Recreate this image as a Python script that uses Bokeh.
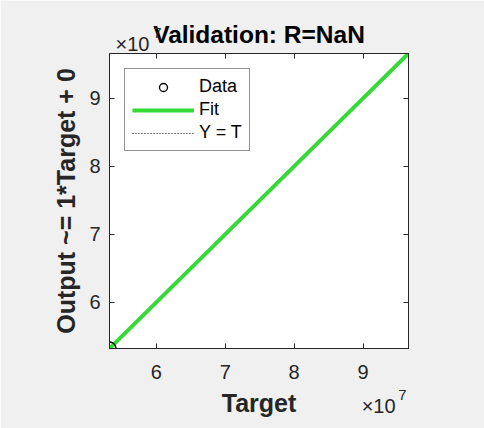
from bokeh.plotting import figure
from bokeh.models import Range1d, LinearAxis, FixedTicker, Legend, LegendItem
from bokeh.embed import file_html
from bokeh.resources import INLINE

# ---- data ----
targets = [5.32e7]          # the single data point (target)
outputs = [5.32e7]          # network output
axis_limits = [5.32e7, 9.66e7]
fit_slope = 1.0
fit_offset = 0.0
tick_values = [6e7, 7e7, 8e7, 9e7]
tick_labels = ["6", "7", "8", "9"]
exponent_base = "\u00d710"
exponent_power = "7"
title_text = "Validation: R=NaN"
x_label = "Target"
y_label = "Output ~= 1*Target + 0"

fit_y = [fit_slope * v + fit_offset for v in axis_limits]
span = axis_limits[1] - axis_limits[0]
# horizontal anchor points of MATLAB's exponent texts (fractions of the axis)
expo_bottom_base = axis_limits[0] + 0.90 * span
expo_bottom_pow = axis_limits[0] + 0.98 * span
expo_top_base = axis_limits[0] + 0.077 * span
expo_top_pow = axis_limits[0] + 0.16 * span

FONT = "Liberation Sans"
AX_COLOR = "#262626"

p = figure(width=484, height=428,
           x_range=Range1d(axis_limits[0], axis_limits[1]),
           y_range=Range1d(axis_limits[0], axis_limits[1]),
           output_backend="svg", toolbar_location=None,
           title_location=None,
           min_border_left=109, min_border_right=76,
           min_border_top=53, min_border_bottom=80,
           background_fill_color="white", border_fill_color="#f0f0f0",
           x_axis_type=None, y_axis_type=None)
p.outline_line_color = AX_COLOR
p.grid.visible = False

ticker = FixedTicker(ticks=tick_values)
overrides = {v: s for v, s in zip(tick_values, tick_labels)}

def style_axis(ax, show_labels):
    ax.ticker = ticker
    ax.major_label_overrides = overrides
    ax.axis_line_color = AX_COLOR
    ax.major_tick_line_color = AX_COLOR
    ax.major_tick_in = 5
    ax.major_tick_out = 0
    ax.minor_tick_line_color = None
    ax.major_label_text_font = FONT
    if show_labels:
        ax.major_label_text_font_size = "20px"
        ax.major_label_text_color = AX_COLOR
    else:
        ax.major_label_text_font_size = "0px"
        ax.major_label_text_color = None
        ax.major_label_standoff = 0
    ax.axis_label_text_font = FONT
    ax.axis_label_text_font_size = "25px"
    ax.axis_label_text_font_style = "bold"
    ax.axis_label_text_color = AX_COLOR

def text_only_axis(pos, label_text, size):
    ax = LinearAxis(ticker=FixedTicker(ticks=[pos]),
                    major_label_overrides={pos: label_text})
    ax.axis_line_color = None
    ax.major_tick_line_color = None
    ax.minor_tick_line_color = None
    ax.major_tick_in = 0
    ax.major_tick_out = 0
    ax.major_label_text_font = FONT
    ax.major_label_text_font_size = size
    ax.major_label_text_color = AX_COLOR
    return ax

# bottom: tick labels, then an axis carrying "x10" and the "Target" label,
# then one carrying the superscript "7"
xb = LinearAxis()
style_axis(xb, True)
xb.major_label_standoff = 16
p.add_layout(xb, "below")

xb2 = text_only_axis(expo_bottom_base, exponent_base, "20px")
xb2.major_label_standoff = 13
xb2.axis_label = x_label
xb2.axis_label_text_font = FONT
xb2.axis_label_text_font_size = "25px"
xb2.axis_label_text_font_style = "bold"
xb2.axis_label_text_color = AX_COLOR
xb2.axis_label_standoff = -31
p.add_layout(xb2, "below")

xb3 = text_only_axis(expo_bottom_pow, exponent_power, "15px")
xb3.major_label_standoff = -30
p.add_layout(xb3, "below")

yl = LinearAxis(axis_label=y_label)
style_axis(yl, True)
yl.major_label_standoff = 9
yl.axis_label_standoff = 6
p.add_layout(yl, "left")

# top: tick marks only, then an axis carrying "x10" and the title,
# then one carrying the superscript "7"
xa = LinearAxis()
style_axis(xa, False)
p.add_layout(xa, "above")

xa3 = text_only_axis(expo_top_pow, exponent_power, "15px")
xa2 = text_only_axis(expo_top_base, exponent_base, "20px")
xa2.major_label_standoff = -1
xa2.axis_label = title_text
xa2.axis_label_text_font = FONT
xa2.axis_label_text_font_size = "24.5px"
xa2.axis_label_text_font_style = "bold"
xa2.axis_label_text_color = "black"
xa2.axis_label_standoff = -18
xa3.major_label_standoff = -20
p.add_layout(xa2, "above")
p.add_layout(xa3, "above")

yr = LinearAxis()
style_axis(yr, False)
p.add_layout(yr, "right")

# Y = T reference (dotted), fit line (green), data (open circles)
r_yt = p.line(axis_limits, axis_limits, line_color="black", line_width=1,
              line_dash="1 2")
r_fit = p.line(axis_limits, fit_y, line_color="#36da36", line_width=4)
r_data = p.scatter(targets, outputs, marker="circle", size=13,
                   fill_color=None, line_color="black", line_width=1.3)

legend = Legend(items=[LegendItem(label="Data", renderers=[r_data]),
                       LegendItem(label="Fit", renderers=[r_fit]),
                       LegendItem(label="Y = T", renderers=[r_yt])],
                location="top_left")
legend.margin = 15
legend.padding = 7
legend.spacing = 2
legend.glyph_width = 62
legend.glyph_height = 20
legend.label_height = 20
legend.label_standoff = 5
legend.label_text_font = FONT
legend.label_text_font_size = "18px"
legend.label_text_color = "black"
legend.border_line_color = AX_COLOR
legend.border_line_width = 1
legend.background_fill_color = "white"
legend.background_fill_alpha = 1
p.add_layout(legend, "center")

open("out.html", "w").write(file_html(p, INLINE))
